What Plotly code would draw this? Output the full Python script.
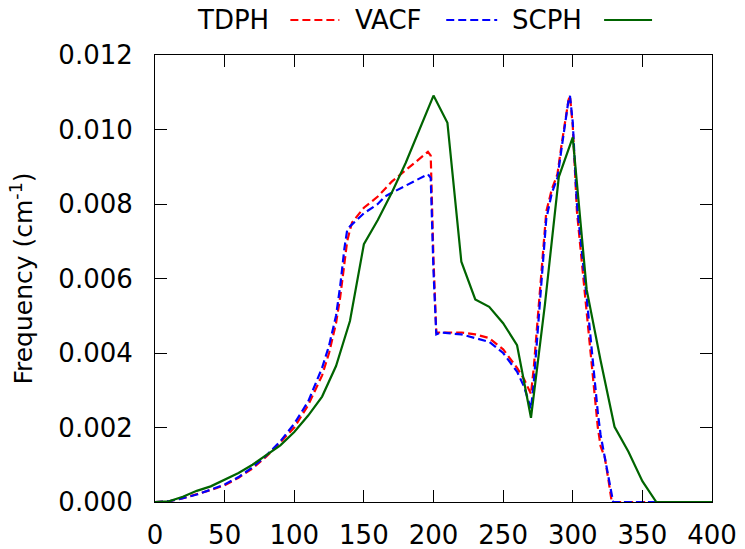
import plotly.graph_objects as go

# TDPH (red dashed)
tdph_x = [0, 10, 20, 30, 40, 50, 60, 70, 80, 90, 100, 110, 120, 125, 130, 133, 136, 138, 140, 141.5,
          150, 160, 170, 180, 190, 196, 198, 200, 202, 205, 220, 230, 240, 250, 260, 265, 270,
          272, 275, 278, 281, 285, 289, 292, 295, 297, 298, 300, 303, 305, 308, 310, 313, 316,
          318, 320, 323, 326, 328, 400]
tdph_y = [0.0, 0.00002, 0.0001, 0.0002, 0.00032, 0.00045, 0.00065, 0.0009, 0.00122, 0.0016, 0.0020,
          0.0026, 0.0034, 0.0040, 0.0048, 0.0055, 0.0064, 0.0070, 0.0073, 0.0075,
          0.0079, 0.0082, 0.0086, 0.0089, 0.0092, 0.0094, 0.0093, 0.0065, 0.00455, 0.00455, 0.00455,
          0.0045, 0.0044, 0.0041, 0.0036, 0.0033, 0.0029,
          0.0036, 0.0050, 0.0064, 0.0078, 0.0084, 0.0088, 0.0096, 0.0103, 0.0108, 0.0109, 0.0101,
          0.0078, 0.0070, 0.0060, 0.0052, 0.0040, 0.0028, 0.0020, 0.0015, 0.0012, 0.0005, 0.0, 0.0]

# VACF (blue dashed)
vacf_x = [0, 10, 20, 30, 40, 50, 60, 70, 80, 90, 100, 110, 120, 125, 130, 133, 136, 138, 140,
          150, 160, 165, 170, 180, 190, 196, 198, 200, 202, 205, 220, 230, 240, 250, 260, 265, 270,
          272, 275, 278, 281, 285, 289, 292, 295, 297, 298, 300, 303, 305, 308, 310, 313, 316,
          318, 320, 323, 326, 329, 400]
vacf_y = [0.0, 0.00002, 0.0001, 0.0002, 0.00033, 0.00047, 0.00067, 0.00093, 0.00125, 0.00163, 0.0021,
          0.0027, 0.0036, 0.0042, 0.0050, 0.0058, 0.0068, 0.0073, 0.0074,
          0.00775, 0.0080, 0.0082, 0.0083, 0.0085, 0.0087, 0.0088, 0.0087, 0.0062, 0.0045, 0.00455,
          0.0045, 0.0044, 0.0043, 0.0040, 0.0035, 0.0031, 0.0025,
          0.0032, 0.0046, 0.0061, 0.0076, 0.0083, 0.0087, 0.0095, 0.0103, 0.0108, 0.0109, 0.0102,
          0.0080, 0.0072, 0.0062, 0.0055, 0.0043, 0.0031, 0.0024, 0.0018, 0.0012, 0.0006, 0.0, 0.0]

# SCPH (green solid)
scph_x = [0, 10, 20, 30, 40, 50, 60, 70, 80, 90, 100, 110, 120, 130, 140, 150, 160, 170, 180, 190,
          200, 210, 220, 230, 240, 250, 260, 270, 280, 290, 300, 310, 320, 330, 340, 350, 360, 400]
scph_y = [0.0, 0.00002, 0.00014, 0.0003, 0.00042, 0.0006, 0.00078, 0.001, 0.00125, 0.00152, 0.00188,
          0.00232, 0.00283, 0.00365, 0.00486, 0.00692, 0.00757, 0.0083, 0.0091, 0.0100,
          0.01091, 0.01018, 0.00645, 0.00544, 0.00524, 0.0048, 0.00421, 0.00226, 0.0053, 0.00873,
          0.00979, 0.0057, 0.0038, 0.00202, 0.00135, 0.00056, 0.0, 0.0]

x_ticks = [0, 50, 100, 150, 200, 250, 300, 350, 400]
y_ticks = [0.000, 0.002, 0.004, 0.006, 0.008, 0.010, 0.012]
legend_names = ["TDPH", "VACF", "SCPH"]
colors = ["#ff0000", "#0000ff", "#006400"]

FONT = "DejaVu Sans"

fig = go.Figure()
fig.add_trace(go.Scatter(x=tdph_x, y=tdph_y, mode="lines", name=legend_names[0],
                         line=dict(color=colors[0], width=2.2, dash="8px,4px")))
fig.add_trace(go.Scatter(x=vacf_x, y=vacf_y, mode="lines", name=legend_names[1],
                         line=dict(color=colors[1], width=2.2, dash="8px,4px")))
fig.add_trace(go.Scatter(x=scph_x, y=scph_y, mode="lines", name=legend_names[2],
                         line=dict(color=colors[2], width=2.2)))

L, R, T, B = 154.5, 712, 55, 502
W, H = 745, 549
pw, ph = R - L, B - T

def px_to_paper_x(px):
    return (px - L) / pw

def px_to_paper_y(py):
    return (B - py) / ph

# custom gnuplot-style legend: label then sample
text_right = [271, 424, 584]
sample_span = [(290, 339), (446, 497), (604, 652)]
ly = 20
for name, tr, (s0, s1), c, d in zip(legend_names, text_right, sample_span, colors,
                                     ["8px,4px", "8px,4px", "solid"]):
    fig.add_annotation(x=px_to_paper_x(tr), y=px_to_paper_y(ly), xref="paper", yref="paper",
                       text=name, showarrow=False, xanchor="right", yanchor="middle",
                       font=dict(family=FONT, size=26, color="black"))
    fig.add_shape(type="line", xref="paper", yref="paper",
                  x0=px_to_paper_x(s0), x1=px_to_paper_x(s1),
                  y0=px_to_paper_y(ly), y1=px_to_paper_y(ly),
                  line=dict(color=c, width=2.2, dash=d))

fig.update_layout(
    width=W, height=H,
    margin=dict(l=L, r=W - R, t=T, b=H - B, autoexpand=False),
    paper_bgcolor="white", plot_bgcolor="white",
    showlegend=False,
    font=dict(family=FONT, size=26, color="black"),
)
fig.update_xaxes(range=[0, 400], tickvals=x_ticks, ticktext=[str(v) for v in x_ticks],
                 ticks="inside", ticklen=12, tickwidth=1, tickcolor="black",
                 showline=True, linecolor="black", linewidth=1, mirror="ticks",
                 showgrid=False, zeroline=False, ticklabelstandoff=10, automargin=False,
                 tickfont=dict(family=FONT, size=26))
fig.update_yaxes(range=[0, 0.012], tickvals=y_ticks, ticktext=[f"{v:.3f}" for v in y_ticks],
                 ticks="inside", ticklen=12, tickwidth=1, tickcolor="black",
                 showline=True, linecolor="black", linewidth=1, mirror="ticks",
                 showgrid=False, zeroline=False, ticklabelstandoff=16, automargin=False,
                 tickfont=dict(family=FONT, size=26),
                 title=dict(text="Frequency (cm<sup>-1</sup>)", font=dict(family=FONT, size=25),
                            standoff=18))

fig.write_html("out.html")
